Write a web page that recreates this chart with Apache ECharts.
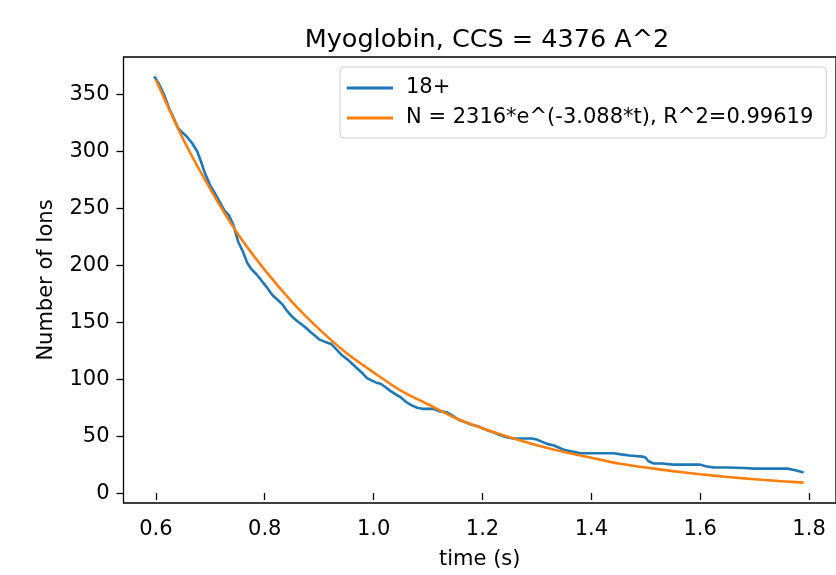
<!DOCTYPE html>
<html><head><meta charset="utf-8">
<script src="https://cdn.jsdelivr.net/npm/echarts@6/dist/echarts.min.js"></script>
<style>html,body{margin:0;padding:0;background:#fff}#c{width:836px;height:575px}</style>
</head><body><div id="c"></div>
<script>
const titleText = 'Myoglobin, CCS = 4376 A^2';
const xAxisName = 'time (s)';
const yAxisName = 'Number of Ions';
const seriesNames = ['18+', 'N = 2316*e^(-3.088*t), R^2=0.99619'];

const blueTimes = [0.597,0.605,0.615,0.625,0.632,0.640,0.648,0.657,0.667,0.676,0.683,0.690,0.700,0.710,0.718,0.726,0.734,0.742,0.751,0.760,0.768,0.775,0.785,0.795,0.805,0.814,0.823,0.832,0.841,0.850,0.860,0.868,0.876,0.885,0.893,0.900,0.910,0.922,0.932,0.942,0.953,0.962,0.971,0.980,0.988,0.996,1.005,1.013,1.022,1.030,1.040,1.050,1.060,1.070,1.080,1.090,1.100,1.110,1.120,1.134,1.145,1.158,1.170,1.180,1.190,1.200,1.210,1.222,1.232,1.244,1.256,1.270,1.290,1.300,1.310,1.320,1.330,1.340,1.350,1.360,1.370,1.380,1.400,1.420,1.441,1.455,1.470,1.495,1.500,1.505,1.515,1.530,1.550,1.580,1.600,1.610,1.625,1.650,1.680,1.700,1.740,1.760,1.775,1.790];
const blueValues = [366,360,350,337,330,321,317,313,307,300,291,281,270,262,255,248,244,236,221,212,202,197,192,186,180,174,170,166,160,155,151,148,145,141,138,135,133,131,126,121,117,113,109,105,101,99,97,96,93,90,87,84,80,77,75,74,74,74,72,71,68,64,62,60,59,57,55,53,51,49,48,48,48,47,45,43,42,40,38,37,36,35,35,35,35,34,33,32,31,28,26,26,25,25,25,23.5,22.5,22.5,22,21.5,21.5,21.5,20,18];

const fitTimes = [0.60,0.65,0.70,0.75,0.80,0.85,0.90,0.95,1.00,1.05,1.10,1.15,1.20,1.25,1.30,1.35,1.40,1.45,1.50,1.55,1.60,1.65,1.70,1.75,1.79];
const fitValues = [363,311,267,228,196,168,144,123,106,90,78,66,57,49,42,36,31,26,22.5,19.3,16.6,14.2,12.2,10.4,9.2];

const xTicks = [0.6,0.8,1.0,1.2,1.4,1.6,1.8];
const yTicks = [0,50,100,150,200,250,300,350];

const FONT = 'DejaVu Sans';
const pairs = (xs, ys) => xs.map((x, i) => [x, ys[i]]);

const chart = echarts.init(document.getElementById('c'), null, {renderer: 'canvas'});
chart.setOption({
  animation: false,
  backgroundColor: '#fff',
  title: {
    text: titleText, left: 482, top: 22, textAlign: 'center',
    textStyle: {fontFamily: FONT, fontSize: 25.5, fontWeight: 'normal', color: '#000'}
  },
  legend: {
    orient: 'vertical', left: 340, top: 67,
    padding: [9, 13, 8, 7],
    itemWidth: 46, itemHeight: 14, itemGap: 6,
    borderColor: '#cccccc', borderWidth: 1, borderRadius: 4,
    backgroundColor: 'rgba(255,255,255,0.8)',
    textStyle: {fontFamily: FONT, fontSize: 21, color: '#000', lineHeight: 24, padding: [0,0,0,8]},
    data: seriesNames.map(n => ({name: n, icon: 'path://M0,0 L46,0 L46,3 L0,3 Z'}))
  },
  grid: {
    left: 123.5, top: 57, width: 725, height: 453,
    show: true, borderColor: '#000', borderWidth: 1.3, backgroundColor: 'transparent'
  },
  xAxis: {
    type: 'value', min: 0.5405, max: 1.8495,
    name: xAxisName, nameLocation: 'middle', nameGap: 46,
    nameTextStyle: {fontFamily: FONT, fontSize: 21, color: '#000'},
    axisLine: {show: false},
    axisTick: {show: true, inside: false, length: 7, lineStyle: {color: '#000', width: 1.3}, customValues: xTicks},
    axisLabel: {customValues: xTicks, margin: 16, fontFamily: FONT, fontSize: 21, color: '#000',
      formatter: v => v.toFixed(1)},
    splitLine: {show: false}
  },
  yAxis: {
    type: 'value', min: -8.7, max: 383,
    name: yAxisName, nameLocation: 'middle', nameGap: 66,
    nameTextStyle: {fontFamily: FONT, fontSize: 21, color: '#000'},
    axisLine: {show: false},
    axisTick: {show: true, inside: false, length: 7, lineStyle: {color: '#000', width: 1.3}, customValues: yTicks},
    axisLabel: {customValues: yTicks, margin: 14, fontFamily: FONT, fontSize: 21, color: '#000'},
    splitLine: {show: false}
  },
  series: [
    {
      name: seriesNames[0], type: 'line', data: pairs(blueTimes, blueValues),
      symbol: 'none', lineStyle: {color: '#1f77b4', width: 2.6}, itemStyle: {color: '#1f77b4'}, z: 2
    },
    {
      name: seriesNames[1], type: 'line', data: pairs(fitTimes, fitValues), smooth: 0.3,
      symbol: 'none', lineStyle: {color: '#ff7f0e', width: 2.6}, itemStyle: {color: '#ff7f0e'}, z: 3
    }
  ]
});
</script>
</body></html>
